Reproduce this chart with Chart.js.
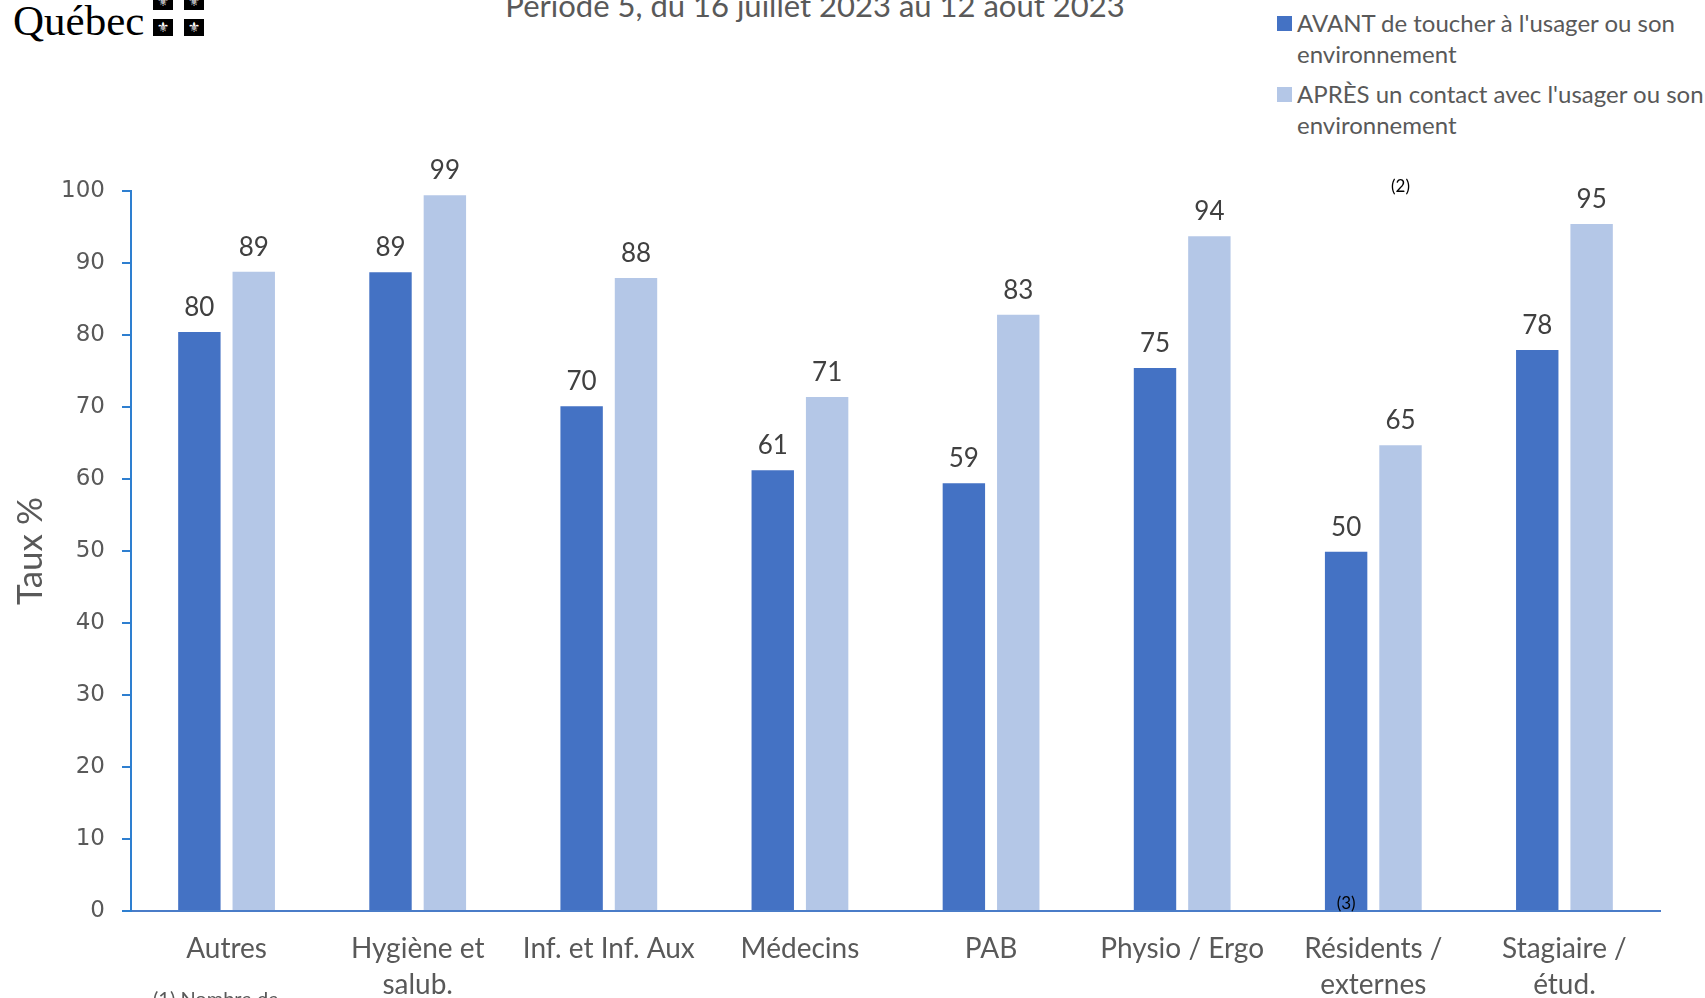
<!DOCTYPE html>
<html lang="fr">
<head>
<meta charset="utf-8">
<script src="https://cdn.jsdelivr.net/npm/chart.js@4.4.0/dist/chart.umd.min.js"></script>
<style>
  html, body { margin: 0; padding: 0; background: #fff; overflow: hidden; }
  body { width: 1705px; height: 998px; position: relative; font-family: Lato, sans-serif; }
  #wrap { position: absolute; left: 0; top: 0; width: 1705px; height: 1040px; }
  #logo { position: absolute; left: 13px; top: -4px; font-family: 'Liberation Serif', serif; font-size: 43px; color: #000; }
  .flag { position: absolute; width: 20px; height: 17px; background: #000; color: #fff; font-size: 14px; line-height: 17px; text-align: center; font-family: 'DejaVu Sans', sans-serif; }
  #title { position: absolute; left: 0; width: 1630px; top: -14px; text-align: center; font-size: 31px; color: #595959; white-space: nowrap; }
  #legend { position: absolute; left: 1277px; top: 7px; }
  .item { display: flex; align-items: flex-start; margin-bottom: 9px; }
  .box { width: 15px; height: 15px; margin-top: 9px; margin-right: 5px; flex: none; }
  .txt { width: 414px; font-size: 24px; line-height: 31px; color: #595959; }
  #note { position: absolute; left: 153px; top: 986px; font-size: 20px; color: #595959; }
</style>
</head>
<body>
<div id="logo">Québec</div>
<div class="flag" style="left:153px; top:-7px">⚜</div>
<div class="flag" style="left:184px; top:-7px">⚜</div>
<div class="flag" style="left:153px; top:19px">⚜</div>
<div class="flag" style="left:184px; top:19px">⚜</div>
<div id="title">Période 5, du 16 juillet 2023 au 12 août 2023</div>
<div id="legend"></div>
<div id="wrap"><canvas id="chart" width="1705" height="1040"></canvas></div>
<div id="note">(1) Nombre de</div>
<script>
const categories = ['Autres', ['Hygiène et', 'salub.'], 'Inf. et Inf. Aux', 'Médecins', 'PAB', 'Physio / Ergo', ['Résidents /', 'externes'], ['Stagiaire /', 'étud.']];
const avant = [80.4, 88.7, 70.1, 61.2, 59.4, 75.4, 49.9, 77.9];
const apres = [88.8, 99.4, 87.9, 71.4, 82.8, 93.7, 64.7, 95.4];
const seriesLabels = ["AVANT de toucher à l'usager ou son environnement", "APRÈS un contact avec l'usager ou son environnement"];
const seriesColors = ['#4472C4', '#B4C7E7'];
const yMin = 0, yMax = 100, yStep = 10;
// footnote markers: category index, series index, value where the text sits
const notes = [
  { cat: 6, ds: 1, value: 100.6, text: '(2)' },
  { cat: 6, ds: 0, value: 1.1, text: '(3)' }
];

const valueLabels = {
  id: 'valueLabels',
  afterDatasetsDraw(chart) {
    const ctx = chart.ctx;
    ctx.save();
    ctx.font = '26px Lato';
    ctx.fillStyle = '#404040';
    ctx.textAlign = 'center';
    ctx.textBaseline = 'alphabetic';
    chart.data.datasets.forEach((ds, i) => {
      chart.getDatasetMeta(i).data.forEach((el, j) => {
        ctx.fillText(String(Math.round(ds.data[j])), el.x, el.y - 16);
      });
    });
    ctx.font = '17px Lato';
    ctx.fillStyle = '#000';
    ctx.textBaseline = 'middle';
    notes.forEach(n => {
      const el = chart.getDatasetMeta(n.ds).data[n.cat];
      ctx.fillText(n.text, el.x, chart.scales.y.getPixelForValue(n.value));
    });
    ctx.restore();
  }
};

const chart = new Chart(document.getElementById('chart'), {
  type: 'bar',
  data: {
    labels: categories,
    datasets: [
      { label: seriesLabels[0], data: avant, backgroundColor: seriesColors[0] },
      { label: seriesLabels[1], data: apres, backgroundColor: seriesColors[1] }
    ]
  },
  options: {
    responsive: false,
    animation: false,
    devicePixelRatio: 1,
    categoryPercentage: 0.569,
    barPercentage: 0.78,
    layout: { padding: { top: 191, right: 45, left: 0, bottom: 0 } },
    plugins: {
      legend: { display: false },
      title: { display: false },
      tooltip: { enabled: false }
    },
    scales: {
      x: {
        grid: { display: false, drawTicks: false },
        border: { display: true, color: '#4A7CC8', width: 2 },
        ticks: {
          font: { family: 'Lato', size: 28, lineHeight: 1.32 },
          color: '#595959',
          padding: 19,
          maxRotation: 0,
          minRotation: 0,
          autoSkip: false
        },
        afterFit(s) { s.height = 129; }
      },
      y: {
        min: yMin,
        max: yMax,
        grid: { drawOnChartArea: false, drawTicks: true, tickLength: 9, tickColor: '#2E7FD0', lineWidth: 2 },
        border: { display: true, color: '#2E7FD0', width: 2 },
        ticks: {
          stepSize: yStep,
          font: { family: 'DejaVu Sans', size: 23 },
          color: '#595959',
          padding: 17
        },
        title: {
          display: true,
          text: 'Taux %',
          font: { family: 'Lato', size: 35 },
          color: '#595959',
          padding: { top: 10, bottom: 0 }
        },
        afterFit(s) { s.width = 131; }
      }
    }
  },
  plugins: [valueLabels]
});

const legend = document.getElementById('legend');
chart.data.datasets.forEach(ds => {
  const item = document.createElement('div');
  item.className = 'item';
  item.innerHTML = '<div class="box" style="background:' + ds.backgroundColor + '"></div><div class="txt"></div>';
  item.querySelector('.txt').textContent = ds.label;
  legend.appendChild(item);
});
</script>
</body>
</html>
